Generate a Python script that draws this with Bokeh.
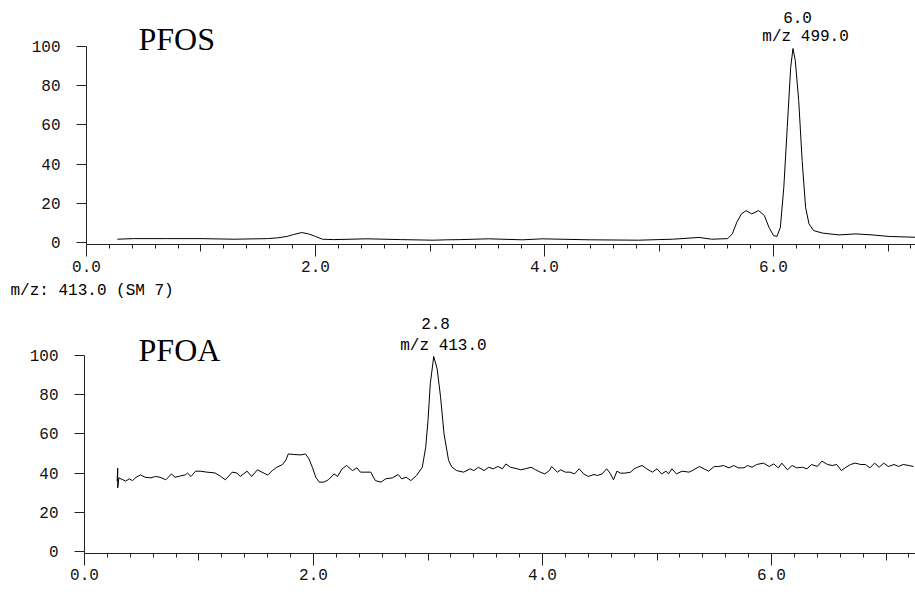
from bokeh.plotting import figure
from bokeh.models import Range1d, FixedTicker, Label, LinearAxis
from bokeh.layouts import column
from bokeh.embed import file_html
from bokeh.resources import INLINE

# ---------------- data ----------------
pfos_time = [0.27, 0.41, 0.70, 1.00, 1.29, 1.58, 1.67, 1.75, 1.81, 1.88,
             1.94, 2.00, 2.06, 2.16, 2.45, 2.74, 3.03, 3.15, 3.27, 3.51,
             3.81, 3.98, 4.39, 4.82, 5.12, 5.35, 5.46, 5.60, 5.64, 5.68,
             5.72, 5.76, 5.81, 5.87, 5.92, 5.96, 6.00, 6.03, 6.06, 6.09,
             6.12, 6.15, 6.17, 6.19, 6.22, 6.25, 6.28, 6.31, 6.35, 6.43,
             6.57, 6.72, 6.86, 7.01, 7.24]
pfos_int = [1.7, 2.0, 2.0, 2.0, 1.7, 2.0, 2.4, 3.1, 4.1, 5.1,
            4.4, 3.1, 1.7, 1.5, 1.9, 1.5, 1.2, 1.4, 1.5, 1.9,
            1.4, 1.9, 1.4, 1.2, 1.7, 2.6, 1.7, 2.0, 4.4, 10.4,
            14.6, 16.3, 14.6, 16.3, 13.8, 7.8, 3.6, 3.1, 7.8, 28.2,
            58.8, 89.4, 99.0, 92.9, 72.4, 41.8, 18.0, 9.5, 6.1, 4.8,
            3.9, 4.4, 3.9, 3.1, 2.7]

pfoa_time = [0.285, 0.29, 0.29, 0.30, 0.36, 0.39, 0.42, 0.45, 0.49, 0.53,
             0.58, 0.62, 0.66, 0.71, 0.76, 0.79, 0.84, 0.88, 0.90, 0.93,
             0.97, 1.01, 1.07, 1.14, 1.19, 1.23, 1.29, 1.33, 1.36, 1.42,
             1.46, 1.51, 1.55, 1.60, 1.64, 1.68, 1.73, 1.76, 1.78, 1.83,
             1.89, 1.93, 1.96, 1.99, 2.02, 2.05, 2.09, 2.13, 2.18, 2.21,
             2.25, 2.29, 2.34, 2.38, 2.41, 2.45, 2.50, 2.54, 2.59, 2.63,
             2.69, 2.74, 2.77, 2.81, 2.85, 2.90, 2.95, 2.98, 3.00, 3.02,
             3.05, 3.08, 3.11, 3.14, 3.18, 3.21, 3.25, 3.31, 3.37, 3.40,
             3.44, 3.49, 3.53, 3.57, 3.61, 3.65, 3.68, 3.72, 3.78, 3.81,
             3.85, 3.90, 3.94, 3.98, 4.02, 4.06, 4.08, 4.13, 4.16, 4.20,
             4.24, 4.28, 4.32, 4.36, 4.40, 4.45, 4.48, 4.52, 4.56, 4.59,
             4.62, 4.65, 4.68, 4.72, 4.77, 4.80, 4.83, 4.87, 4.91, 4.96,
             5.00, 5.04, 5.08, 5.10, 5.13, 5.17, 5.22, 5.28, 5.32, 5.37,
             5.41, 5.45, 5.50, 5.54, 5.58, 5.63, 5.67, 5.71, 5.76, 5.79,
             5.83, 5.87, 5.93, 5.98, 6.02, 6.06, 6.09, 6.14, 6.18, 6.22,
             6.27, 6.31, 6.35, 6.40, 6.44, 6.49, 6.53, 6.57, 6.61, 6.65,
             6.69, 6.73, 6.78, 6.82, 6.86, 6.90, 6.94, 6.98, 7.02, 7.07,
             7.11, 7.15, 7.20, 7.24]
pfoa_int = [36.0, 42.5, 32.5, 37.6, 35.9, 37.1, 36.2, 37.9, 39.1, 37.9,
            37.6, 38.3, 37.9, 36.6, 39.6, 37.9, 38.6, 39.1, 40.0, 38.3,
            41.0, 41.0, 40.5, 40.1, 38.3, 36.6, 40.5, 40.1, 38.3, 41.0,
            38.3, 41.7, 40.5, 39.0, 41.3, 43.0, 44.4, 46.8, 49.8, 49.5,
            49.3, 49.8, 47.3, 43.0, 37.9, 35.4, 35.4, 36.6, 39.6, 38.3,
            42.2, 43.9, 41.3, 42.7, 40.5, 40.5, 40.5, 36.2, 35.4, 37.1,
            37.6, 39.3, 37.1, 37.9, 36.2, 38.8, 43.0, 53.2, 66.8, 85.6,
            99.5, 93.2, 78.7, 60.0, 46.4, 43.0, 41.3, 40.5, 42.2, 41.3,
            43.0, 41.3, 43.0, 42.2, 43.4, 42.2, 44.7, 43.0, 42.2, 41.7,
            42.2, 43.0, 41.7, 40.5, 39.6, 41.3, 43.4, 40.5, 41.7, 40.5,
            40.5, 39.6, 42.2, 39.6, 38.3, 39.3, 38.8, 39.6, 42.2, 40.0,
            36.6, 41.0, 40.0, 40.0, 40.5, 42.2, 43.0, 43.9, 42.2, 40.5,
            42.2, 39.6, 41.0, 39.6, 42.2, 39.6, 41.0, 40.5, 41.7, 43.4,
            42.2, 41.0, 43.4, 43.4, 43.9, 42.7, 43.9, 42.7, 42.7, 43.9,
            43.0, 44.4, 45.1, 43.4, 44.7, 42.7, 45.1, 41.7, 43.9, 42.7,
            43.0, 42.2, 44.4, 43.4, 46.1, 44.4, 43.9, 44.4, 41.3, 43.0,
            44.4, 45.1, 44.4, 44.4, 42.7, 45.1, 43.0, 45.1, 43.4, 44.4,
            43.4, 44.4, 43.9, 43.4]

y_ticks = [0, 20, 40, 60, 80, 100]
x_major_ticks = [0, 2, 4, 6]
x_tick_labels = {0: "0.0", 2: "2.0", 4: "4.0", 6: "6.0"}
x_mid_ticks = [1, 3, 5, 7]
x_minor_ticks = [round(i * 0.2, 1) for i in range(0, 37)]

pfos_title = "PFOS"
pfoa_title = "PFOA"
pfos_rt, pfos_mz = "6.0", "m/z 499.0"
pfoa_rt, pfoa_mz = "2.8", "m/z 413.0"
pfoa_header = "m/z: 413.0 (SM 7)"

MONO = "Liberation Mono"
SERIF = "Liberation Serif"
FS = "16px"
AX = "#222222"


def make_fig(height, x_range, y_range, x_end):
    # the frame fills the whole canvas; axes sit at fixed data positions
    p = figure(width=915, height=height, output_backend="svg",
               toolbar_location=None, x_range=Range1d(*x_range),
               y_range=Range1d(*y_range),
               min_border_left=0, min_border_right=0,
               min_border_top=0, min_border_bottom=0)
    p.grid.visible = False
    p.outline_line_color = None
    p.background_fill_color = "white"
    p.border_fill_color = "white"

    xa = p.xaxis[0]
    xa.fixed_location = -1
    xa.bounds = (0, x_end)
    xa.ticker = FixedTicker(ticks=x_major_ticks, minor_ticks=x_minor_ticks)
    xa.major_label_overrides = x_tick_labels
    xa.major_tick_out = 12
    xa.major_tick_in = 0
    xa.minor_tick_out = 4
    xa.minor_tick_in = 0
    xa.major_label_standoff = 4
    xa.major_label_text_font = MONO
    xa.major_label_text_font_size = FS
    xa.major_label_text_color = "#111111"
    xa.axis_line_color = AX
    xa.major_tick_line_color = AX
    xa.minor_tick_line_color = AX

    # medium-length ticks at the odd whole minutes, drawn on the same line
    xm = LinearAxis(fixed_location=-1, bounds=(0, x_end),
                    ticker=FixedTicker(ticks=x_mid_ticks, minor_ticks=[]),
                    major_label_overrides={t: "" for t in x_mid_ticks},
                    major_tick_out=7, major_tick_in=0,
                    minor_tick_out=0, minor_tick_in=0,
                    axis_line_color=None, major_tick_line_color=AX)
    p.add_layout(xm, "below")

    ya = p.yaxis[0]
    ya.fixed_location = 0
    ya.bounds = (-1, 100)
    ya.ticker = FixedTicker(ticks=y_ticks, minor_ticks=[])
    ya.major_tick_out = 10
    ya.major_tick_in = 0
    ya.minor_tick_out = 0
    ya.minor_tick_in = 0
    ya.major_label_standoff = 16
    ya.major_label_text_font = MONO
    ya.major_label_text_font_size = FS
    ya.major_label_text_color = "#111111"
    ya.axis_line_color = AX
    ya.major_tick_line_color = AX
    return p


def label(p, x, y, text, font, size, align, baseline):
    p.add_layout(Label(x=x, y=y, text=text, text_font=font,
                       text_font_size=size, text_color="black",
                       text_align=align, text_baseline=baseline))


# ---------------- top: PFOS ----------------
p1 = make_fig(300, (-0.751, 7.24), (-29.57, 123.49), 7.24)
p1.line(pfos_time, pfos_int, line_color="black", line_width=1)
label(p1, 0.454, 103.6, pfos_title, SERIF, "32px", "left", "alphabetic")
label(p1, 6.21, 114.8, pfos_rt, MONO, FS, "center", "middle")
label(p1, 6.28, 105.1, pfos_mz, MONO, FS, "center", "middle")
label(p1, -0.664, -24.47, pfoa_header, MONO, FS, "left", "middle")

# ---------------- bottom: PFOA ----------------
p2 = make_fig(290, (-0.7336, 7.2576), (-19.88, 128.08), 7.2576)
p2.line(pfoa_time, pfoa_int, line_color="black", line_width=1)
label(p2, 0.472, 102.6, pfoa_title, SERIF, "32px", "left", "alphabetic")
label(p2, 3.066, 116.3, pfoa_rt, MONO, FS, "center", "middle")
label(p2, 3.135, 105.1, pfoa_mz, MONO, FS, "center", "middle")

layout = column(p1, p2, spacing=0)
open("out.html", "w").write(file_html(layout, INLINE))
